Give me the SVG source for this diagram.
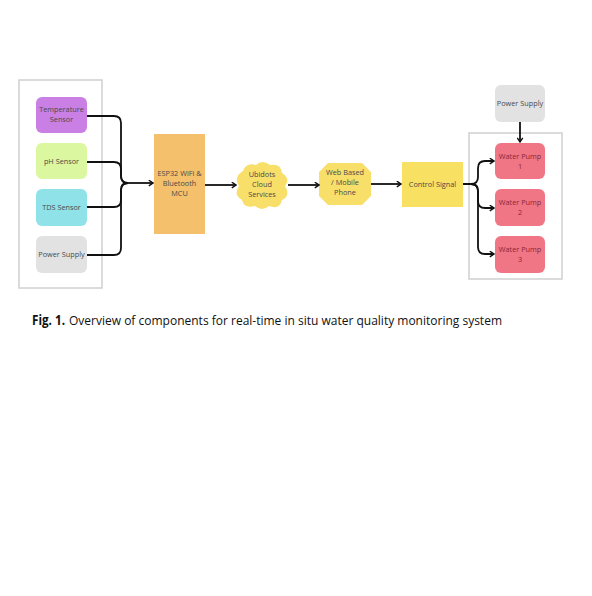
<svg xmlns="http://www.w3.org/2000/svg" width="592" height="596" viewBox="0 0 592 596">
<defs>
<style>
.t{font-family:"Open Sans","Liberation Sans",sans-serif;font-size:7.3px;fill:#4a4a4a;text-anchor:middle}
.tp{font-family:"Open Sans","Liberation Sans",sans-serif;font-size:7.3px;fill:#8a2636;text-anchor:middle}
.cap{font-family:"Open Sans","Liberation Sans",sans-serif;font-size:13.5px;fill:#111}
.c{fill:none;stroke:#111;stroke-width:1.8}
.frame{fill:none;stroke:#d0d0d0;stroke-width:1.5}
</style>
<marker id="ah" viewBox="0 0 10 10" refX="8" refY="5" markerWidth="7" markerHeight="7" markerUnits="userSpaceOnUse" orient="auto">
<polyline points="2,1 8,5 2,9" fill="none" stroke="#111" stroke-width="2"/>
</marker>
</defs>
<rect width="592" height="596" fill="#fff"/>
<rect class="frame" x="19" y="80" width="83" height="208"/>
<rect class="frame" x="469" y="133" width="93" height="146"/>
<g id="temp"><rect x="36" y="97" width="51" height="36" rx="6" fill="#c97fe3"/><text class="t" x="61.5" y="112">Temperature</text><text class="t" x="61.5" y="122">Sensor</text></g>
<g id="ph"><rect x="36" y="143" width="51" height="36" rx="6" fill="#dbf8a0"/><text class="t" x="61.5" y="164">pH Sensor</text></g>
<g id="tds"><rect x="36" y="189" width="51" height="37" rx="6" fill="#8fe3e8"/><text class="t" x="61.5" y="210">TDS Sensor</text></g>
<g id="power1"><rect x="36" y="236" width="51" height="37" rx="6" fill="#e2e2e2"/><text class="t" x="61.5" y="257">Power Supply</text></g>
<g id="esp"><rect x="154" y="134" width="51" height="100" fill="#f4c06b"/><text class="t" x="179.5" y="176">ESP32 WiFi &amp;</text><text class="t" x="179.5" y="186">Bluetooth</text><text class="t" x="179.5" y="196">MCU</text></g>
<g id="cloud"><path d="M243,171 Q246,162 256,165 Q262,159 270,165 Q281,163 282,173 Q291,179 285,186 Q291,196 282,200 Q280,210 269,206 Q262,212 255,206 Q244,209 242,200 Q233,195 239,186 Q233,177 243,171 Z" fill="#f8df6a"/><text class="t" x="262" y="177">Ubidots</text><text class="t" x="262" y="187">Cloud</text><text class="t" x="262" y="197">Services</text></g>
<g id="web"><polygon points="328,163 362,163 371,172 371,196 362,205 328,205 319,196 319,172" fill="#f8df6a"/><text class="t" x="345" y="175">Web Based</text><text class="t" x="345" y="185">/ Mobile</text><text class="t" x="345" y="195">Phone</text></g>
<g id="control"><rect x="402" y="162" width="61" height="45" fill="#f8e062"/><text class="t" x="432.5" y="187">Control Signal</text></g>
<g id="power2"><rect x="495" y="85" width="50" height="37" rx="6" fill="#e2e2e2"/><text class="t" x="520" y="106">Power Supply</text></g>
<g id="pump1"><rect x="495" y="143" width="50" height="36" rx="6" fill="#f07685"/><text class="tp" x="520" y="159">Water Pump</text><text class="tp" x="520" y="169">1</text></g>
<g id="pump2"><rect x="495" y="189" width="50" height="37" rx="6" fill="#f07685"/><text class="tp" x="520" y="205">Water Pump</text><text class="tp" x="520" y="215">2</text></g>
<g id="pump3"><rect x="495" y="236" width="50" height="37" rx="6" fill="#f07685"/><text class="tp" x="520" y="252">Water Pump</text><text class="tp" x="520" y="262">3</text></g>
<g id="connectors">
<path class="c" d="M87,116 H114 Q121,116 121,123 V176 Q121,183 128,183"/>
<path class="c" d="M87,162 H114 Q121,162 121,169 V176 Q121,183 128,183"/>
<path class="c" d="M87,207 H114 Q121,207 121,200 V190 Q121,183 128,183"/>
<path class="c" d="M87,255 H114 Q121,255 121,248 V190 Q121,183 128,183"/>
<path class="c" d="M127,183 H153" marker-end="url(#ah)"/>
<path class="c" d="M205,185 H236" marker-end="url(#ah)"/>
<path class="c" d="M288,185 H319" marker-end="url(#ah)"/>
<path class="c" d="M371,184 H401" marker-end="url(#ah)"/>
<path class="c" d="M520,122 V142" marker-end="url(#ah)"/>
<path class="c" d="M463,184 H471 Q478,184 478,177 V168 Q478,161 485,161 H494" marker-end="url(#ah)"/>
<path class="c" d="M471,184 Q478,184 478,191 V201 Q478,208 485,208 H494" marker-end="url(#ah)"/>
<path class="c" d="M471,184 Q478,184 478,191 V247 Q478,254 485,254 H494" marker-end="url(#ah)"/>
</g>
<text class="cap" x="32" y="325" font-weight="bold" textLength="33" lengthAdjust="spacingAndGlyphs">Fig. 1.</text>
<text class="cap" x="69" y="325" textLength="433" lengthAdjust="spacingAndGlyphs">Overview of components for real-time in situ water quality monitoring system</text>
</svg>
